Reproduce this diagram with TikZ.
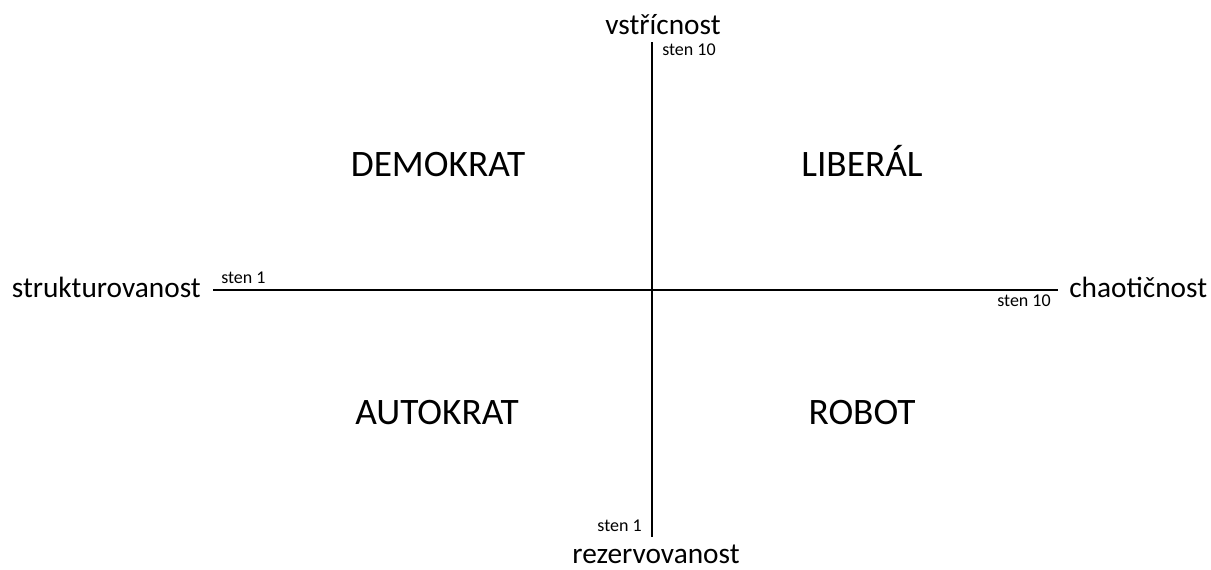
\documentclass[tikz,border=0pt]{standalone}
\usepackage{fontspec}
\setmainfont{Carlito}
\usetikzlibrary{
positioning,
calc
}
\definecolor{AxisBlack}{HTML}{000000}

\begin{document}
\begin{tikzpicture}[
    x=0.75pt,
    y=-0.75pt,
    axis/.style={
        AxisBlack,
        line width=2.2pt
    },
    pole/.style={
        font=\fontsize{22}{26}\selectfont,
        inner sep=0pt
    },
    stenlab/.style={
        font=\fontsize{13.5}{16}\selectfont,
        inner sep=0pt
    },
    quadrant/.style={
        font=\fontsize{28}{33}\selectfont,
        inner sep=0pt,
        anchor=base
    }
]

% =====================================================
% CANVAS
% =====================================================
\useasboundingbox (0,0) rectangle (1211,569);

% =====================================================
% AXIS END POINTS
% =====================================================
\coordinate (top) at (652,42);
\coordinate (bottom) at (652,537);
\coordinate (left) at (213,290);
\coordinate (right) at (1058,290);

% =====================================================
% AXES
% =====================================================
\draw[axis] (left) -- (right);
\draw[axis] (top) -- (bottom);

% =====================================================
% POLE LABELS
% =====================================================
\node[pole, anchor=base] (vstric) at (663,34) {vstřícnost};
\node[pole, anchor=base] (rezerv) at (656,563) {rezervovanost};
\node[pole, anchor=base east] (strukt) at (201,297) {strukturovanost};
\node[pole, anchor=base west] (chaot) at (1069,297) {chaotičnost};

% =====================================================
% STEN LABELS
% =====================================================
\node[stenlab, anchor=base west] (stentop) at (662,55) {sten 10};
\node[stenlab, anchor=base east] (stenbottom) at (642,531) {sten 1};
\node[stenlab, anchor=base west] (stenleft) at (221,283) {sten 1};
\node[stenlab, anchor=base east] (stenright) at (1051,306) {sten 10};

% =====================================================
% QUADRANTS
% =====================================================
\node[quadrant] (demokrat) at (438,176) {DEMOKRAT};
\node[quadrant] (liberal) at (862,176) {LIBERÁL};
\node[quadrant] (autokrat) at (437,424) {AUTOKRAT};
\node[quadrant] (robot) at (862,424) {ROBOT};

\end{tikzpicture}
\end{document}
